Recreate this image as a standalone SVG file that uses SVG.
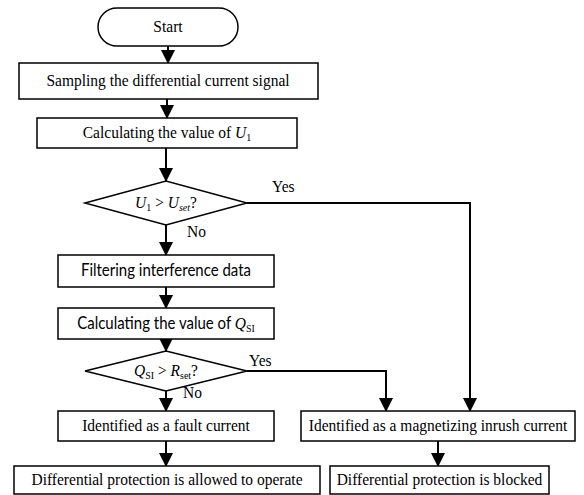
<svg xmlns="http://www.w3.org/2000/svg" width="584" height="495" viewBox="0 0 584 495">
<style>
.box{fill:#fff;stroke:#000;stroke-width:1.5}
.ln{fill:none;stroke:#000;stroke-width:2}
.t{font-family:"Liberation Serif","Times New Roman",serif;font-size:15.5px;fill:#000;text-anchor:middle}
.s{font-family:Lato,"Liberation Sans",sans-serif;font-size:15px;fill:#000;text-anchor:middle}
.lab{font-family:"Liberation Serif","Times New Roman",serif;font-size:15.5px;fill:#000}
.i{font-style:italic}
</style>
<defs>
<marker id="ah" markerUnits="userSpaceOnUse" markerWidth="14" markerHeight="16" refX="13" refY="7" orient="auto">
<path d="M0,0 L14,7 L0,14 Z" fill="#000"/>
</marker>
</defs>
<rect width="584" height="495" fill="#fff"/>
<g id="connectors">
<line class="ln" x1="168" y1="46" x2="168" y2="63" marker-end="url(#ah)"/>
<line class="ln" x1="167" y1="99" x2="167" y2="118" marker-end="url(#ah)"/>
<line class="ln" x1="166" y1="148" x2="166" y2="181" marker-end="url(#ah)"/>
<line class="ln" x1="166" y1="225" x2="166" y2="255" marker-end="url(#ah)"/>
<line class="ln" x1="166" y1="287" x2="166" y2="308" marker-end="url(#ah)"/>
<line class="ln" x1="166" y1="339" x2="166" y2="351" marker-end="url(#ah)"/>
<line class="ln" x1="166" y1="391" x2="166" y2="411" marker-end="url(#ah)"/>
<line class="ln" x1="166" y1="441" x2="166" y2="466" marker-end="url(#ah)"/>
<polyline class="ln" points="247,203 470,203 470,411" marker-end="url(#ah)"/>
<polyline class="ln" points="247,371 386,371 386,411" marker-end="url(#ah)"/>
<line class="ln" x1="438" y1="441" x2="438" y2="466" marker-end="url(#ah)"/>
<text class="lab" transform="translate(272,192) scale(1,1.1)">Yes</text>
<text class="lab" transform="translate(187,237) scale(1,1.1)">No</text>
<text class="lab" transform="translate(249,366) scale(1,1.1)">Yes</text>
<text class="lab" transform="translate(183,398) scale(1,1.1)">No</text>
</g>
<g id="start">
<rect class="box" x="98" y="8" width="140" height="38" rx="19"/>
<text class="t" transform="translate(168,32) scale(1,1.1)">Start</text>
</g>
<g id="sampling">
<rect class="box" x="19" y="63" width="299" height="36"/>
<text class="t" transform="translate(168,86) scale(1,1.1)">Sampling the differential current signal</text>
</g>
<g id="calc-u">
<rect class="box" x="37" y="118" width="260" height="30"/>
<text class="t" transform="translate(167,138) scale(1,1.1)">Calculating the value of <tspan class="i">U</tspan><tspan font-size="10" dy="3">1</tspan></text>
</g>
<g id="decision-u">
<polygon class="box" points="85,203 166,181 247,203 166,225"/>
<text class="t" transform="translate(166,208) scale(1,1.1)"><tspan class="i">U</tspan><tspan font-size="10" dy="3">1</tspan><tspan dy="-3"> &gt; </tspan><tspan class="i">U</tspan><tspan class="i" font-size="10" dy="3">set</tspan><tspan dy="-3">?</tspan></text>
</g>
<g id="filtering">
<rect class="box" x="58" y="255" width="216" height="32"/>
<text class="s" transform="translate(166,276) scale(1,1.1)">Filtering interference data</text>
</g>
<g id="calc-q">
<rect class="box" x="58" y="308" width="216" height="31"/>
<text class="s" transform="translate(166,329) scale(1,1.1)">Calculating the value of <tspan class="i" font-family="Liberation Serif" font-size="15.5">Q</tspan><tspan font-family="Liberation Serif" font-size="10" dy="3">SI</tspan></text>
</g>
<g id="decision-q">
<polygon class="box" points="85,371 166,351 247,371 166,391"/>
<text class="t" transform="translate(166,376) scale(1,1.1)"><tspan class="i">Q</tspan><tspan font-size="10" dy="3">SI</tspan><tspan dy="-3"> &gt; </tspan><tspan class="i">R</tspan><tspan font-size="10" dy="3">set</tspan><tspan dy="-3">?</tspan></text>
</g>
<g id="fault">
<rect class="box" x="58" y="411" width="216" height="30"/>
<text class="t" transform="translate(166,431) scale(1,1.1)">Identified as a fault current</text>
</g>
<g id="allowed">
<rect class="box" x="14" y="466" width="306" height="28"/>
<text class="t" transform="translate(167,485) scale(1,1.1)">Differential protection is allowed to operate</text>
</g>
<g id="inrush">
<rect class="box" x="301" y="411" width="274" height="30"/>
<text class="t" transform="translate(438,431) scale(1,1.1)">Identified as a magnetizing inrush current</text>
</g>
<g id="blocked">
<rect class="box" x="330" y="466" width="219" height="28"/>
<text class="t" transform="translate(439.5,485) scale(1,1.1)">Differential protection is blocked</text>
</g>
</svg>
